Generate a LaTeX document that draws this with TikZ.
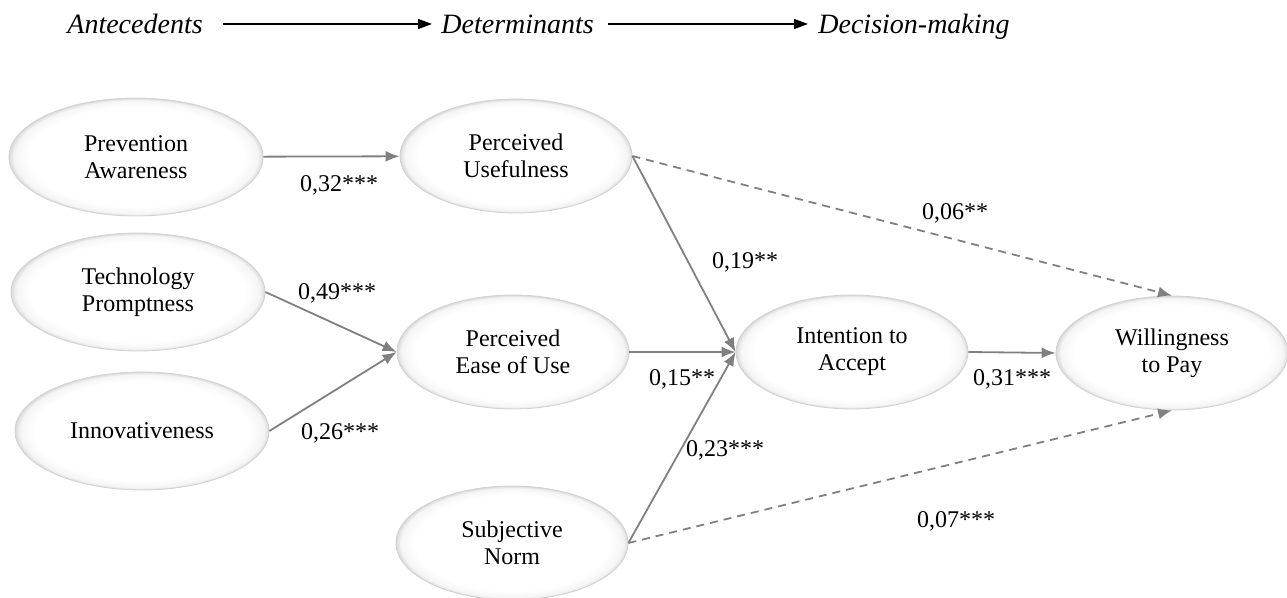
\documentclass[tikz,border=0pt]{standalone}
\usepackage{fontspec}
\setmainfont{Liberation Serif}
\usetikzlibrary{arrows.meta, shapes.geometric, positioning}
\pgfdeclareradialshading{rim}{\pgfpoint{0bp}{0bp}}{color(0bp)=(white); color(21bp)=(white); color(24bp)=(gray!8); color(25bp)=(gray!30); color(50bp)=(gray!30)}
\tikzset{
    latent/.style={ellipse, shade, shading=rim, draw=gray!35, line width=0.4pt,
      minimum width=116pt, minimum height=57pt, inner sep=0pt, align=center,
      font=\fontsize{12}{13.5}\selectfont},
    wide/.style={latent, minimum width=127pt, minimum height=59pt},
    link/.style={draw=gray, line width=0.9pt, -{Latex[length=7pt,width=5.5pt]}},
    weak/.style={link, dash pattern=on 4pt off 3pt},
    coef/.style={font=\fontsize{12}{14}\selectfont, inner sep=0pt},
    stage/.style={font=\fontsize{14}{16}\selectfont\itshape, inner sep=0pt,
      text height=10pt, text depth=0pt},
    flow/.style={draw=black, line width=0.7pt, -{Triangle[length=7pt,width=5pt]}},
}
\begin{document}
\begin{tikzpicture}[x=0.5pt, y=-0.5pt]
    \useasboundingbox (0,0) rectangle (1287,598);

    \node[stage, anchor=west] (ante) at (67,24) {Antecedents};
    \node[stage, anchor=west] (det) at (441,24) {Determinants};
    \node[stage, anchor=west] (dec) at (818,24) {Decision-making};

    \draw (ante) edge[flow, shorten <=10pt, shorten >=4.5pt] (det);
    \draw (det) edge[flow, shorten <=7pt, shorten >=5pt] (dec);

    \node[wide] (pa) at (136,157) {Prevention\\Awareness};
    \node[wide] (tp) at (138,292) {Technology\\Promptness};
    \node[wide] (inn) at (142,431) {Innovativeness};

    \node[latent] (pu) at (516,156) {Perceived\\Usefulness};
    \node[latent] (peu) at (513,352) {Perceived\\Ease of Use};
    \node[latent] (sn) at (512,543) {Subjective\\Norm};

    \node[latent] (ita) at (852,352) {Intention to\\Accept};
    \node[latent] (wtp) at (1172,353) {Willingness\\to Pay};

    \draw (pa) edge[link] (pu);
    \draw (tp.east) edge[link] (peu.west);
    \draw (inn.east) edge[link] (peu.west);

    \draw (pu.east) edge[link] (ita.west);
    \draw (peu.east) edge[link] (ita.west);
    \draw (sn.east) edge[link] (ita.west);

    \draw (ita.east) edge[link] (wtp.west);
    \draw (pu.east) edge[weak] (wtp.north);
    \draw (sn.east) edge[weak] (wtp.south);

    \node[coef] (w1) at (339,185) {0,32***};
    \node[coef] (w2) at (337,293) {0,49***};
    \node[coef] (w3) at (340,433) {0,26***};
    \node[coef] (w4) at (745,262) {0,19**};
    \node[coef] (w5) at (682,379) {0,15**};
    \node[coef] (w6) at (725,450) {0,23***};
    \node[coef] (w7) at (1012,379) {0,31***};
    \node[coef] (w8) at (955,213) {0,06**};
    \node[coef] (w9) at (956,521) {0,07***};
\end{tikzpicture}
\end{document}
